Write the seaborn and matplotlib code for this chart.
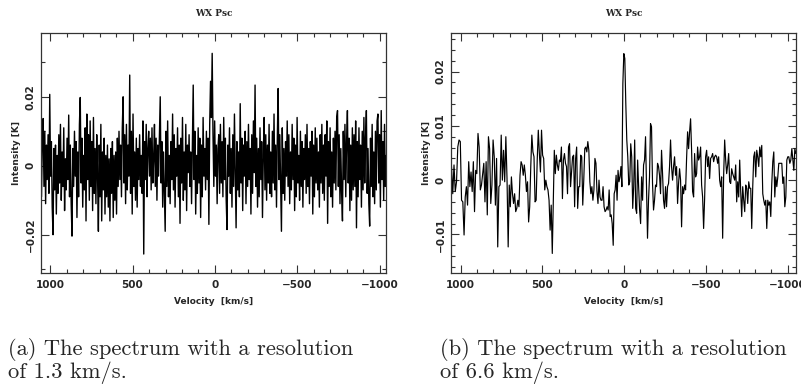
import numpy as np
import pandas as pd
import matplotlib
matplotlib.use("Agg")
import matplotlib.pyplot as plt
from matplotlib.ticker import MultipleLocator, FuncFormatter
import seaborn as sns

# ---------------- data (intensity in mK) ----------------
# Panel (a): 1.3 km/s resolution spectrum (sampled), velocity from 1057 to -1038 km/s
vel_a_range = (1057, -1038)
int_a_mK = [
    4, -9, 8, 13.7, -6, 10, -11, 6, -4, 9, -8, 20.7, -3, 7, -12, -20, 5, -7, 6, -14,
    3, -8, 9, -5, 12, -10, 4, -6, 11, -13, 2, -7, 8, -4, 14.7, -9, 6, -11, -20.4, 5,
    -6, 10, -3, 7, -15, 4, -9, 12, 19.8, -5, 8, -12, 3, -7, 11, -16, 15, -4, 9, -10,
    13, -6, 7, -13, 14, -8, 5, -11, 9, -3, -19, 6, -9, 12, -16, 4, -7, 8, -14, 3,
    -9, 6, -12, 2, -16, 5, -8, 7, -15, 3, -10, 4, -14, 8, -6, 10, -4, 6, -9, 11,
    20, -5, 9, -11, 12, -7, 6, -3, 26.3, -8, 10, -14, 15, -6, 4, -10, 8, -12, 5, -4,
    9, -6, 3, -8, 13, -25.6, 7, -4, 12, -9, 5, 10, -3, 8, -7, 11, -5, 2, 12, -6,
    8, -10, 6, -3, 9, 20, -5, 7, -12, 4, -8, -19, 10, -6, 13, -9, 3, -11, 7, -4,
    15, -7, 9, -12, 5, -3, 11, -9, 6, -16.7, 8, -5, 14, -10, 4, -7, 12, -13, 6, -2,
    9, -6, 4, -11, 7, 23.4, -4, 10, -14, 3, -8, 11, -5, 8, -15, 6, -9, 14, -3, 5,
    -7, 10, -4, 8, -17, 12, 24.5, 14, 32.6, 9, -6, 13, -3, 6, -11, 5, 9, -8, 12, -5,
    7, -9, 14, -4, 8, -10, -18.5, 6, -3, 11, -8, 5, -12, 9, -6, 15, -2, -18, 7, -7,
    4, -9, 18, -5, 8, -13, 6, -3, 10, -11, 7, -6, 12, -4, 5, -14, 9, -8, 13, -2,
    23.4, -6, 8, -12, 5, -9, 11, -4, 7, -15, 3, 14, -7, 9, -10, 6, -5, 12, -8, 4,
    -9, 10, -5, 15, -7, 6, -12, 8, 22.4, -4, 9, -6, -19, 11, -8, 5, -10, 7, -3, 13,
    -6, 9, -11, 4, -7, 12, -4, 8, -13, 6, -9, 14, -5, 3, -10, 10, -6, 7, -12, 5,
    -4, 9, -8, 12, -6, 5, -11, 7, -3, 10, -14, 6, -9, 11, -5, 8, -7, 4, -12, 9,
    -5, 12, -8, 6, -10, 9, -3, 13, -16.7, 7, -6, 11, -9, 4, -12, 8, -5, 10, -7, 14,
    16, -6, 9, -11, 5, -8, -16, 10, -4, 12, -9, 7, 16, -5, 8, -13, 6, -10, 11, -7,
    9, -6, 13, -18, 7, -9, 11, -4, 6, -12, 10, -7, 14, -5, 8, 16, -8, 5, -11, -17.5,
    8, -6, 12, -9, 4, -11, 10, -7, 13, 15, -5, 9, -12, 16, -4, 7, -10, 12, -6, 3,
]

# Panel (b): 6.6 km/s resolution spectrum
int_b_mK = [
    2.5, -2.5, 2.8, -2.1, -0.3, 6.1, 7.4, 7.1, -3.7, -4.0, -10.1, -3.1, -1.2, -4.6, 3.4,
    -1.2, 1.5, -2.1, 3.4, -5.8, 1.8, 1.2, 8.6, 6.1, -1.8, -0.9, 1.2, 3.1, -4.0, 3.4,
    -6.4, 8.0, 5.8, -4.3, -0.9, 7.4, 4.3, -4.6, 4.0, -12.3, -1.2, -0.9, 8.3, 0.0, 5.5,
    -0.3, 8.0, 0.3, -12.3, -0.9, -4.9, 0.6, -2.5, -4.3, -2.5, -5.8, -5.2, -3.7, -4.9, 0.9,
    3.4, 2.8, 0.9, 2.8, 0.9, -2.1, -0.3, -7.7, -4.9, 2.5, 8.3, 5.2, 4.3, -4.0, -3.7,
    3.7, 9.2, 4.9, 1.5, 9.2, 4.6, 4.0, -1.8, 0.0, -1.2, -1.8, -3.7, -9.2, -4.6, -13.5,
    -3.7, 5.5, 1.2, 4.6, 2.8, 1.8, 3.7, 3.4, 6.1, -3.4, 3.7, 4.9, 3.1, 2.5, -2.5,
    6.1, 6.7, -1.2, 1.5, 4.3, 4.6, -4.9, 4.0, 6.1, -5.2, -1.2, -1.2, 4.6, 4.3, -4.6,
    0.0, 5.8, 6.1, 5.2, 7.1, 5.5, -0.3, -2.5, -1.2, -3.7, -1.8, 4.0, 3.1, -2.1, -4.3,
    0.0, -3.1, -3.7, -3.7, -1.2, -4.9, -5.8, -5.5, -4.9, -5.5, -1.8, -6.7, -6.4, -8.0, -12.0,
    -2.5, -1.8, 0.9, -3.7, 1.8, -0.3, 0.6, 2.5, -1.2, 17.8, 23.3, 22.4, 14.1, 7.4, 4.3,
    -0.9, -0.3, 6.7, 4.3, -5.2, -1.2, 7.4, -5.2, -6.1, 3.7, -1.2, -5.5, -8.0, 0.6, -3.7,
    2.8, 3.7, 8.0, -1.2, -10.7, -3.7, 0.6, 10.4, 9.8, -0.6, -5.5, -3.7, -0.9, -1.2, 3.1,
    2.5, 0.9, -2.5, 5.5, 1.2, -3.7, -5.2, -1.2, -4.9, -1.2, -0.6, 2.5, 7.4, 2.5, 0.0,
    2.5, 4.3, 0.9, 2.5, -4.3, -0.6, 2.1, 0.0, -8.6, -1.2, -2.5, -0.9, -1.8, 4.0, 8.9,
    5.8, 8.9, 11.3, 5.5, -2.1, -3.1, 4.9, 0.6, 1.2, 6.1, 3.7, 4.3, 6.1, -0.9, -3.1,
    -8.9, -3.4, 4.3, 5.5, 2.5, 4.3, 0.3, 4.0, 4.3, 4.9, 3.4, 4.3, 4.6, 4.3, 3.1,
    4.3, 0.0, -1.2, 0.6, -10.7, 0.9, 7.4, 3.7, 1.2, 2.8, 4.9, -0.3, -0.6, 2.1, 1.2,
    0.6, 0.0, 2.8, -4.0, -0.3, -3.1, 3.7, -2.1, -6.7, -1.2, -3.7, -5.8, -0.9, -1.5, -4.3,
    -0.3, -1.5, -1.5, -8.9, -1.2, 4.3, 5.2, 0.6, 5.5, 4.3, 2.5, 6.1, 4.3, 6.4, -2.5,
    -3.7, -4.6, -3.7, -8.9, -3.7, -4.6, -4.0, -6.7, -0.6, 3.4, 5.2, -3.1, 0.6, -1.2, 0.6,
    3.1, 3.1, 3.1, 3.1, -0.6, 0.6, -4.9, -3.1, 3.7, 4.3, 4.3, 3.1, 3.7, 5.8, 3.7,
    1.8, 5.8, 4.9,
]
chan_b_anchor = [0, 10, 48, 89, 149, 160, 184, 259, 288, 332]
vel_b_anchor = [1057, 980, 710, 440, 67, 2, -143, -603, -781, -1051]

title_text = "WX Psc"
xlabel_text = "Velocity  [km/s]"
ylabel_text = "Intensity [K]"
caption_a = "(a) The spectrum with a resolution\nof 1.3 km/s."
caption_b = "(b) The spectrum with a resolution\nof 6.6 km/s."

df_a = pd.DataFrame({
    "velocity": np.linspace(vel_a_range[0], vel_a_range[1], len(int_a_mK)),
    "intensity": np.array(int_a_mK) / 1000.0,
})
df_b = pd.DataFrame({
    "velocity": np.interp(np.arange(len(int_b_mK)), chan_b_anchor, vel_b_anchor),
    "intensity": np.array(int_b_mK) / 1000.0,
})

# ---------------- style ----------------
sns.set_style("ticks")
plt.rcParams["font.family"] = ["DejaVu Sans"]

fig = plt.figure(figsize=(8.01, 3.88), dpi=100)
ax_a = fig.add_axes([41 / 801, 1 - 273 / 388, (386 - 41) / 801, (273 - 33) / 388])
ax_b = fig.add_axes([451 / 801, 1 - 273 / 388, (796 - 451) / 801, (273 - 33) / 388])


def fmt(v, pos):
    if abs(v) < 1e-12:
        return "0"
    s = f"{v:g}"
    return s.replace("-", "\u2212")


def style_axis(ax, df, xlim, ylim, ymajor, yminor, lw):
    sns.lineplot(data=df, x="velocity", y="intensity", ax=ax, color="black",
                 linewidth=lw, estimator=None, sort=False)
    ax.set_xlim(*xlim)
    ax.set_ylim(*ylim)
    ax.xaxis.set_major_locator(MultipleLocator(500))
    ax.xaxis.set_minor_locator(MultipleLocator(100))
    ax.yaxis.set_major_locator(MultipleLocator(ymajor))
    ax.yaxis.set_minor_locator(MultipleLocator(yminor))
    ax.xaxis.set_major_formatter(FuncFormatter(fmt))
    ax.yaxis.set_major_formatter(FuncFormatter(fmt))
    ax.tick_params(which="both", direction="in", top=True, right=True,
                   color="#333333", width=0.8)
    ax.tick_params(which="major", length=6, labelsize=7.5)
    ax.tick_params(which="minor", length=3)
    ax.tick_params(axis="x", pad=5)
    ax.tick_params(axis="y", pad=4)
    for lab in ax.get_xticklabels() + ax.get_yticklabels():
        lab.set_fontweight("bold")
    for lab in ax.get_yticklabels():
        lab.set_rotation(90)
        lab.set_va("center")
    for sp in ax.spines.values():
        sp.set_visible(True)
        sp.set_linewidth(0.9)
        sp.set_color("#333333")
    ax.set_title(title_text, fontsize=6.5, fontweight="bold", family="DejaVu Serif",
                 pad=12)
    ax.set_xlabel(xlabel_text, fontsize=6.5, fontweight="bold", labelpad=5)
    ax.set_ylabel(ylabel_text, fontsize=6.5, fontweight="bold", labelpad=3)


style_axis(ax_a, df_a, (1055, -1037), (-0.0311, 0.0385), 0.02, 0.01, 1.0)
style_axis(ax_b, df_b, (1060, -1052), (-0.0171, 0.0271), 0.01, 0.002, 0.85)

fig.text(8 / 801, 1 - 361 / 388, caption_a, family="cmr10", fontsize=16.2,
         ha="left", va="center", linespacing=1.05)
fig.text(440 / 801, 1 - 361 / 388, caption_b, family="cmr10", fontsize=16.2,
         ha="left", va="center", linespacing=1.05)

fig.savefig("out.png", dpi=100)
